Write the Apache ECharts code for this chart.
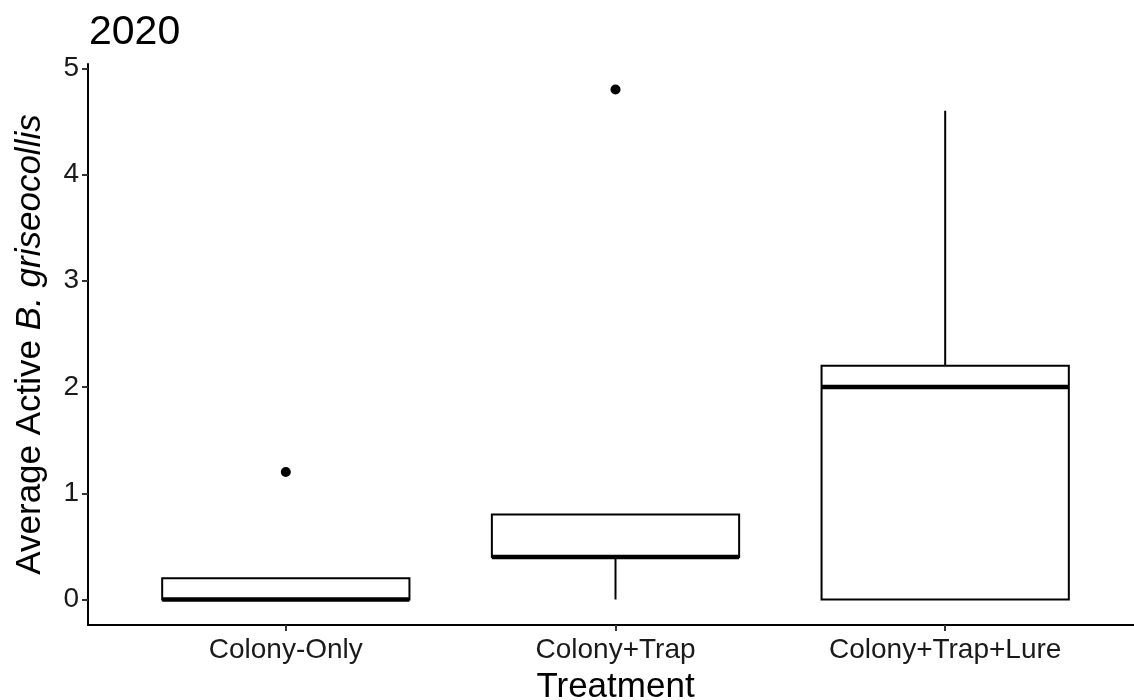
<!DOCTYPE html>
<html>
<head>
<meta charset="utf-8">
<script src="https://cdn.jsdelivr.net/npm/echarts@6/dist/echarts.min.js"></script>
<style>html,body{margin:0;padding:0;background:#fff;}#c{width:1134px;height:700px;}</style>
</head>
<body>
<div id="c"></div>
<script>
const categories = ['Colony-Only', 'Colony+Trap', 'Colony+Trap+Lure'];
const lowerWhisker = [0, 0, 0];
const q1 = [0, 0.4, 0];
const median = [0, 0.4, 2.0];
const q3 = [0.2, 0.8, 2.2];
const upperWhisker = [0.2, 0.8, 4.6];
const outlierCategory = ['Colony-Only', 'Colony+Trap'];
const outlierValues = [1.2, 4.8];
const yTicks = [0, 1, 2, 3, 4, 5];
const titleText = '2020';

const FONT = '"Liberation Sans", Arial, sans-serif';
const chart = echarts.init(document.getElementById('c'), null, {renderer: 'canvas'});

const boxData = categories.map((c, i) => [i + 1, lowerWhisker[i], q1[i], median[i], q3[i], upperWhisker[i]]);
const outlierData = outlierCategory.map((c, i) => [categories.indexOf(c) + 1, outlierValues[i]]);

function renderBox(params, api) {
  const x = api.value(0);
  const pLw = api.coord([x, api.value(1)]);
  const pQ1 = api.coord([x, api.value(2)]);
  const pMed = api.coord([x, api.value(3)]);
  const pQ3 = api.coord([x, api.value(4)]);
  const pUw = api.coord([x, api.value(5)]);
  const half = api.size([0.75, 0])[0] / 2;
  const cx = pMed[0];
  const lineStyle = {stroke: '#000', lineWidth: 2, fill: null};
  const children = [];
  if (pLw[1] - pQ1[1] > 0.5) {
    children.push({type: 'line', shape: {x1: cx, y1: pQ1[1], x2: cx, y2: pLw[1]}, style: lineStyle});
  }
  if (pQ3[1] - pUw[1] > 0.5) {
    children.push({type: 'line', shape: {x1: cx, y1: pUw[1], x2: cx, y2: pQ3[1]}, style: lineStyle});
  }
  children.push({type: 'rect', shape: {x: cx - half, y: pQ3[1], width: half * 2, height: pQ1[1] - pQ3[1]},
    style: {fill: '#fff', stroke: '#000', lineWidth: 2}});
  children.push({type: 'line', shape: {x1: cx - half, y1: pMed[1], x2: cx + half, y2: pMed[1]},
    style: {stroke: '#000', lineWidth: 4.5}});
  return {type: 'group', children: children};
}

chart.setOption({
  animation: false,
  backgroundColor: '#fff',
  title: {
    text: titleText, left: 84, top: 7,
    textStyle: {fontFamily: FONT, fontSize: 41, fontWeight: 'normal', color: '#000'}
  },
  grid: {left: 88, right: -9, top: 64, bottom: 75, containLabel: false, outerBoundsMode: 'none'},
  xAxis: {
    type: 'value', min: 0.4, max: 3.6,
    name: 'Treatment', nameLocation: 'middle', nameGap: 45,
    nameTextStyle: {fontFamily: FONT, fontSize: 35, color: '#000'},
    splitLine: {show: false},
    axisLine: {show: true, onZero: false, lineStyle: {color: '#000', width: 2}},
    axisTick: {show: true, length: 6, customValues: [1, 2, 3], lineStyle: {color: '#333', width: 2}},
    axisLabel: {customValues: [1, 2, 3], margin: 11, fontFamily: FONT, fontSize: 28, color: '#1a1a1a',
      formatter: v => categories[Math.round(v) - 1] || ''}
  },
  yAxis: {
    type: 'value', min: -0.24, max: 5.04,
    name: '{n|Average Active }{i|B. griseocollis}', nameLocation: 'middle', nameRotate: 90, nameGap: 40,
    nameTextStyle: {fontFamily: FONT, fontSize: 35, color: '#000',
      rich: {n: {fontFamily: FONT, fontSize: 35, color: '#000'},
             i: {fontFamily: FONT, fontSize: 35, color: '#000', fontStyle: 'italic'}}},
    splitLine: {show: false},
    axisLine: {show: true, onZero: false, lineStyle: {color: '#000', width: 2}},
    axisTick: {show: true, length: 6, customValues: yTicks, lineStyle: {color: '#333', width: 2}},
    axisLabel: {customValues: yTicks, margin: 9, fontFamily: FONT, fontSize: 28, color: '#1a1a1a'}
  },
  series: [
    {type: 'custom', renderItem: renderBox, data: boxData, encode: {x: 0, y: [1, 2, 3, 4, 5]}, clip: false, z: 2},
    {type: 'scatter', data: outlierData, symbol: 'circle', symbolSize: 10,
      itemStyle: {color: '#000', opacity: 1}, z: 3}
  ]
});
</script>
</body>
</html>
